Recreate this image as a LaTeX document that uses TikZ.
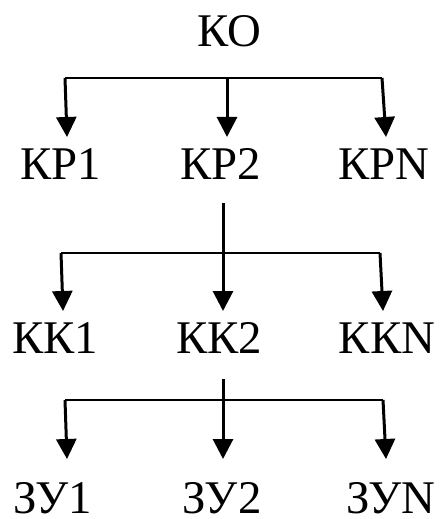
\documentclass[tikz,border=0pt]{standalone}
\usepackage{fontspec}
\setmainfont{Liberation Serif}
\usetikzlibrary{arrows.meta}
\tikzset{
  lbl/.style={anchor=base, inner sep=0pt, font=\fontsize{47}{47}\selectfont},
  bus/.style={line width=2.6bp},
  drop/.style={line width=3bp, -{Triangle[width=20bp,length=20bp]}},
  stem/.style={line width=3bp},
}
\begin{document}
\begin{tikzpicture}[x=1bp,y=-1bp]
\useasboundingbox (0,0) rectangle (446,519);
% level labels
\node[lbl] (KO) at (229.5,47) {КО};
\node[lbl] (KP1) at (61,180) {КР1};
\node[lbl] (KP2) at (221,180) {КР2};
\node[lbl] (KPN) at (384,180) {КРN};
\node[lbl] (KK1) at (55,353) {КК1};
\node[lbl] (KK2) at (219,353) {КК2};
\node[lbl] (KKN) at (387,353) {ККN};
\node[lbl] (ZU1) at (52.5,513) {ЗУ1};
\node[lbl] (ZU2) at (222,513) {ЗУ2};
\node[lbl] (ZUN) at (391,513) {ЗУN};
% first branching
\coordinate (a1) at (65,78);
\coordinate (a2) at (227,78);
\coordinate (a3) at (382,78);
\coordinate (t1) at (67,137);
\coordinate (t2) at (227,137);
\coordinate (t3) at (386,137);
\draw[bus] (a1) -- (a3);
\draw[drop] (a1) -- (t1);
\draw[drop] (a2) -- (t2);
\draw[drop] (a3) -- (t3);
% second branching
\coordinate (s2) at (223,203);
\coordinate (b1) at (61,253);
\coordinate (b2) at (223,253);
\coordinate (b3) at (380,253);
\coordinate (u1) at (63,311);
\coordinate (u2) at (223,311);
\coordinate (u3) at (383,311);
\draw[bus] (b1) -- (b3);
\draw[stem] (s2) -- (b2);
\draw[drop] (b1) -- (u1);
\draw[drop] (b2) -- (u2);
\draw[drop] (b3) -- (u3);
% third branching
\coordinate (s3) at (223,379);
\coordinate (c1) at (65,400);
\coordinate (c2) at (223,400);
\coordinate (c3) at (383,400);
\coordinate (v1) at (67,459);
\coordinate (v2) at (223,459);
\coordinate (v3) at (386,459);
\draw[bus] (c1) -- (c3);
\draw[stem] (s3) -- (c2);
\draw[drop] (c1) -- (v1);
\draw[drop] (c2) -- (v2);
\draw[drop] (c3) -- (v3);
\end{tikzpicture}
\end{document}
